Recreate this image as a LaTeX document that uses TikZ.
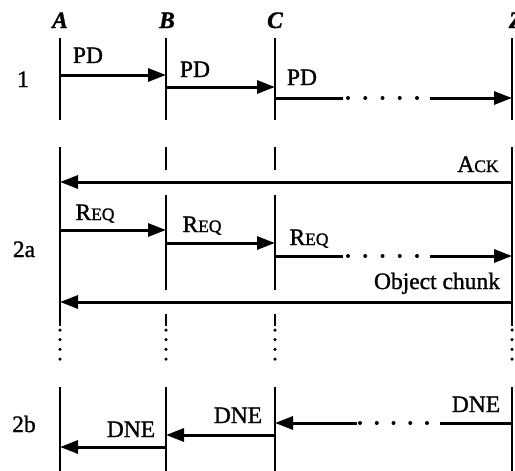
\documentclass[tikz,border=0pt]{standalone}
\usepackage{fontspec}
\setmainfont{Liberation Serif}[FakeBold=1.2]
\usetikzlibrary{arrows.meta}
% fake small capitals: first letter full size, the rest smaller
\newcommand{\capsm}[2]{#1{\fontsize{17.5}{17.5}\selectfont #2}}

\begin{document}
\begin{tikzpicture}[x=1pt,y=-1pt,
  life/.style={line width=2.2pt},
  faint/.style={line width=1.3pt},
  msg/.style={line width=3pt,-{Triangle[length=18pt,width=13pt]}},
  seg/.style={line width=3pt},
  dotrow/.style={line width=4pt,line cap=round,dash pattern=on 0pt off 17.25pt},
  dotrowb/.style={line width=4pt,line cap=round,dash pattern=on 0pt off 16.75pt},
  dotcol/.style={line width=3.5pt,line cap=round,dash pattern=on 0pt off 9.7pt},
  lbl/.style={font=\fontsize{23.5}{23.5}\selectfont, anchor=base, inner sep=0pt},
  head/.style={font=\fontsize{23.5}{23.5}\selectfont\bfseries\itshape, anchor=base, inner sep=0pt},
]
\useasboundingbox (0,0) rectangle (515,471);

% ---- entity headings
\node[head] (hA) at (60,28) {A};
\node[head] (hB) at (167,28) {B};
\node[head] (hC) at (275,28) {C};
\node[head] (hZ) at (516,28) {Z};

% ---- phase labels
\node[lbl] (ph1)  at (23,87)  {1};
\node[lbl] (ph2a) at (24,257) {2a};
\node[lbl] (ph2b) at (24,432) {2b};

% ---- lifelines, phase 1
\coordinate (A1t) at (60,38);  \coordinate (A1b) at (60,120);
\coordinate (B1t) at (166,38); \coordinate (B1b) at (166,120);
\coordinate (C1t) at (275,38); \coordinate (C1b) at (275,120);
\coordinate (Z1t) at (512,38); \coordinate (Z1b) at (512,120);
\draw[life] (A1t) -- (A1b);
\draw[life] (B1t) -- (B1b);
\draw[life] (C1t) -- (C1b);
\draw[life] (Z1t) -- (Z1b);

% ---- lifelines, phase 2a
\coordinate (A2t) at (60,147);  \coordinate (A2b) at (60,326);
\coordinate (Z2t) at (512,147); \coordinate (Z2b) at (512,326);
\draw[life] (A2t) -- (A2b);
\draw[life] (Z2t) -- (Z2b);
\coordinate (B2a) at (166,147); \coordinate (B2b) at (166,170);
\coordinate (B2c) at (166,195); \coordinate (B2d) at (166,290);
\coordinate (B2e) at (166,314); \coordinate (B2f) at (166,326);
\draw[faint] (B2a) -- (B2b);
\draw[life]  (B2c) -- (B2d);
\draw[faint] (B2e) -- (B2f);
\coordinate (C2a) at (275,147); \coordinate (C2b) at (275,170);
\coordinate (C2c) at (275,195); \coordinate (C2d) at (275,256);
\coordinate (C2g) at (275,290);
\coordinate (C2e) at (275,314); \coordinate (C2f) at (275,326);
\draw[life]  (C2a) -- (C2b);
\draw[life]  (C2c) -- (C2d);
\draw[faint] (C2d) -- (C2g);
\draw[faint] (C2e) -- (C2f);

% ---- continuation dots between phases
\foreach \n/\x in {dA/60,dB/166,dC/275,dZ/512}{
  \coordinate (\n t) at (\x,330);
  \coordinate (\n b) at (\x,359.5);
  \draw[dotcol] (\n t) -- (\n b);
}

% ---- lifelines, phase 2b
\coordinate (A3t) at (60,387);  \coordinate (A3b) at (60,471);
\coordinate (B3t) at (166,387); \coordinate (B3b) at (166,471);
\coordinate (C3t) at (275,387); \coordinate (C3b) at (275,471);
\coordinate (Z3t) at (512,387); \coordinate (Z3b) at (512,471);
\draw[life] (A3t) -- (A3b);
\draw[life] (B3t) -- (B3b);
\draw[life] (C3t) -- (C3b);
\draw[life] (Z3t) -- (Z3b);

% ---- phase 1: PD forwarded hop by hop
\coordinate (pd1s) at (60,75);  \coordinate (pd1e) at (166,75);
\coordinate (pd2s) at (166,87); \coordinate (pd2e) at (275,87);
\coordinate (pd3s) at (275,98); \coordinate (pd3m) at (343,98);
\coordinate (pd3d) at (348,98); \coordinate (pd3f) at (417.1,98);
\coordinate (pd3r) at (430,98); \coordinate (pd3e) at (512,98);
\draw[msg] (pd1s) -- (pd1e);
\draw[msg] (pd2s) -- (pd2e);
\draw[seg] (pd3s) -- (pd3m);
\draw[dotrow] (pd3d) -- (pd3f);
\draw[msg] (pd3r) -- (pd3e);
\node[lbl] (lpd1) at (88,63)  {PD};
\node[lbl] (lpd2) at (195,77) {PD};
\node[lbl] (lpd3) at (302,85) {PD};

% ---- phase 2a
\coordinate (acks) at (512,182); \coordinate (acke) at (60,182);
\draw[msg] (acks) -- (acke);
\node[lbl] (lack) at (478,172) {\capsm{A}{CK}};

\coordinate (rq1s) at (60,230);  \coordinate (rq1e) at (166,230);
\coordinate (rq2s) at (166,243); \coordinate (rq2e) at (275,243);
\coordinate (rq3s) at (275,256); \coordinate (rq3m) at (343,256);
\coordinate (rq3d) at (348,256); \coordinate (rq3f) at (417.1,256);
\coordinate (rq3r) at (430,256); \coordinate (rq3e) at (512,256);
\draw[msg] (rq1s) -- (rq1e);
\draw[msg] (rq2s) -- (rq2e);
\draw[seg] (rq3s) -- (rq3m);
\draw[dotrow] (rq3d) -- (rq3f);
\draw[msg] (rq3r) -- (rq3e);
\node[lbl] (lrq1) at (95,220)  {\capsm{R}{EQ}};
\node[lbl] (lrq2) at (202,232) {\capsm{R}{EQ}};
\node[lbl] (lrq3) at (309,245) {\capsm{R}{EQ}};

\coordinate (objs) at (512,302); \coordinate (obje) at (60,302);
\draw[msg] (objs) -- (obje);
\node[lbl] (lobj) at (437,289) {Object chunk};

% ---- phase 2b: DNE travelling back
\coordinate (dn3s) at (512,423); \coordinate (dn3m) at (440,423);
\coordinate (dn3d) at (427,423); \coordinate (dn3f) at (359.9,423);
\coordinate (dn3r) at (357,423); \coordinate (dn3e) at (275,423);
\draw[seg] (dn3s) -- (dn3m);
\draw[dotrowb] (dn3d) -- (dn3f);
\draw[msg] (dn3r) -- (dn3e);
\coordinate (dn2s) at (275,435); \coordinate (dn2e) at (166,435);
\coordinate (dn1s) at (166,447); \coordinate (dn1e) at (60,447);
\draw[msg] (dn2s) -- (dn2e);
\draw[msg] (dn1s) -- (dn1e);
\node[lbl] (ldn3) at (476,412) {DNE};
\node[lbl] (ldn2) at (238,423) {DNE};
\node[lbl] (ldn1) at (131,437) {DNE};
\end{tikzpicture}
\end{document}
